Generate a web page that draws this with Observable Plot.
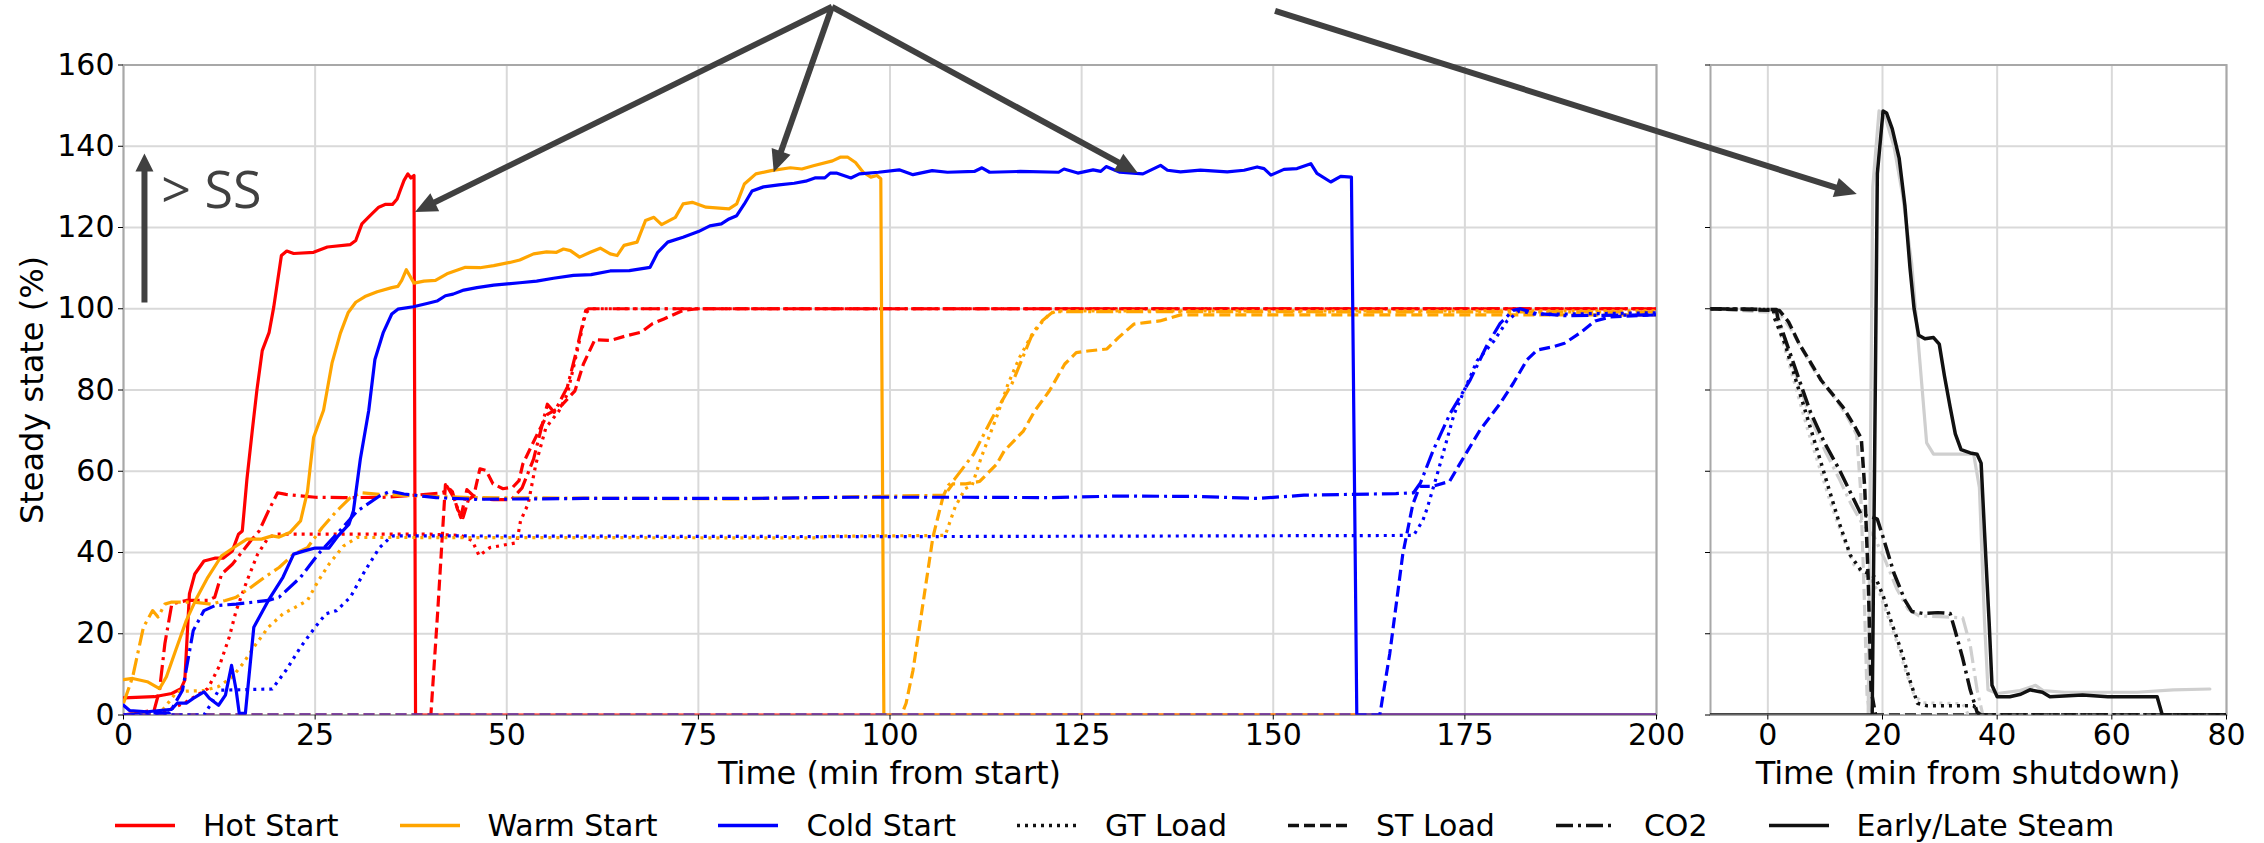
<!DOCTYPE html>
<html><head><meta charset="utf-8">
<script src="https://cdn.jsdelivr.net/npm/d3@7"></script>
<script src="https://cdn.jsdelivr.net/npm/@observablehq/plot@0.6"></script>
<style>
body{margin:0;background:#fff;}
#wrap{position:relative;width:2264px;height:843px;overflow:hidden;font-family:"DejaVu Sans",sans-serif;color:#000;}
.axlab{position:absolute;font-size:32px;white-space:nowrap;transform:translate(-50%,-50%);}
#legend{position:absolute;left:115px;top:825px;transform:translateY(-50%);display:flex;align-items:center;font-size:30px;white-space:nowrap;}
.li{display:flex;align-items:center;margin-right:61px;}
.li svg{margin-right:28px;}
</style></head><body><div id="wrap"></div>
<script>
// ---------- data: [minutes, % of steady state] ----------
const xTicksStart = [0, 25, 50, 75, 100, 125, 150, 175, 200];
const xTicksShut = [0, 20, 40, 60, 80];
const yTicks = [0, 20, 40, 60, 80, 100, 120, 140, 160];

const hotSteam = [[0,4.2],[4,4.5],[6.3,5.3],[7.5,6.5],[8,8.6],[8.6,29.8],[9.3,34.7],[10.5,37.9],[11.9,38.6],[13,38.6],[14.2,40.4],[15,44.5],[15.5,45.3],[16.1,58],[16.8,70],[17.4,79.9],[18.1,89.7],[19,94.2],[19.6,100.4],[20.6,113.1],[21.3,114.2],[22.2,113.6],[24.8,113.9],[26.6,115.2],[29.6,115.8],[30.3,116.8],[31.1,120.9],[32.2,123],[33.3,125],[34.2,125.7],[35.1,125.7],[35.7,127],[36.1,129.1],[36.6,131.6],[37.1,133.2],[37.5,132.2],[37.9,132.8],[38.1,0],[200,0]];
const hotGT = [[0,0],[5,0.5],[8,3],[11,6.5],[12.5,12],[13.8,19.2],[14.7,25.7],[16.1,33],[17.5,39.6],[18.9,43.7],[20,44.5],[40,44.5],[44,44.2],[45.5,42.9],[46.4,39.2],[47.8,41.2],[50.1,42],[51.3,42.4],[51.8,47.8],[52.8,52],[53.8,61.8],[55.1,70.7],[56.8,74.8],[57.9,79],[59,88],[60.3,99],[61,100],[200,100]];
const hotST = [[0,0],[40.1,0],[41,25.7],[42,56.7],[42.9,55],[43.6,50.5],[44.3,48.6],[45,53],[45.7,54],[46.5,60.6],[47.3,60.2],[48.2,56.9],[49.5,55.7],[50.8,56.1],[51.6,57.7],[52.1,61.8],[54,69.2],[55.3,74],[56.9,75.7],[58.9,79.8],[60,86.4],[61.5,92.4],[63.5,92.2],[65.7,93.4],[67.5,94.2],[69,96.3],[70.5,97.5],[73,99.6],[75,100],[200,100]];
const hotCO2 = [[0,0],[4,1.2],[4.7,6.1],[5.4,17.6],[6.3,27.3],[8.2,28.2],[11,28.2],[11.9,29],[12.8,34.7],[14.2,37.1],[15.4,40],[16.6,42.9],[17.7,45.3],[18.9,50.2],[20.1,54.7],[21.2,54.3],[25,53.6],[28.7,53.5],[34.3,53.6],[38,54.1],[41.7,54.7],[42.2,56.3],[43.1,53.5],[44,48.6],[44.8,55.5],[45.9,53.5],[48.3,53],[50.6,53],[52,55.9],[53.5,63],[55.3,76.5],[56.2,74.5],[57.9,80.7],[59,88.9],[60.3,99.6],[60.7,100],[200,100]];

const warmSteam = [[0,8.7],[1.2,9],[3.1,8.2],[4.7,6.5],[5.6,9.4],[6.8,15.9],[8.2,23.3],[9.6,29],[11,33.9],[12.8,39.2],[14.7,41.6],[16.1,43.3],[18,43.3],[19.4,44.1],[20.3,43.8],[21.7,44.9],[23.1,47.8],[24,55],[24.8,68.3],[26.1,75],[27.2,86.6],[28.3,94],[29.3,99],[30.3,101.6],[31.5,103],[33.1,104.2],[35,105.2],[35.8,105.5],[36.3,107],[36.9,109.6],[37.9,106.3],[39.2,106.8],[40.7,107],[42.2,108.6],[44.6,110.2],[46.5,110.1],[48.3,110.6],[50.4,111.4],[51.7,112],[53.5,113.5],[55.2,114],[56.5,113.9],[57.4,114.7],[58.3,114.3],[59.5,112.7],[60.9,113.9],[62.2,114.9],[63.5,113.5],[64.4,113.1],[65.3,115.6],[67,116.4],[68.1,121.7],[69.2,122.5],[70.2,120.7],[72,122.5],[73,125.8],[74.2,126.2],[76,125],[79,124.6],[80,125.8],[81,130.7],[82.5,133.2],[84.5,134],[87,134.7],[88.5,134.4],[90,135.2],[92.5,136.4],[93.5,137.3],[94.5,137.3],[95.5,136],[96.5,133.6],[97.5,132.4],[98.3,132.8],[98.8,132],[99.2,0],[200,0]];
const warmGT = [[0,0],[5,1],[7,5.8],[10.5,6],[12.4,7],[14.2,9.4],[15.6,12.7],[17,16.7],[18.9,21.6],[20.8,24.9],[22.4,26.5],[24,28.2],[25.4,33],[26.8,37.1],[28.7,41.6],[30.5,43.7],[90,43.6],[92,44],[107.2,44.2],[108.5,51.2],[109.8,55.7],[110.7,56.5],[111.9,63.4],[113.9,73.3],[115.4,81.5],[116.9,88],[118.8,94.6],[120.8,98.7],[121.8,99.5],[200,99.5]];
const warmST = [[0,0],[101.5,0],[102.1,2.9],[103,11],[104.3,27.4],[105.6,43.8],[106.9,53.6],[108.2,56.9],[109.9,56.9],[111.7,57.5],[113.9,61.7],[114.9,65],[117.4,69.9],[118.9,74.9],[120.8,79.8],[122.8,86.4],[124.3,89.2],[125.8,89.6],[128.3,90.1],[129.8,92.9],[131.8,96.2],[133.3,96.6],[135.2,97],[137.9,98.5],[200,98.5]];
const warmCO2 = [[0,2.9],[1.2,9.4],[2.6,21.6],[3.8,25.7],[4.5,24.1],[5.4,27.3],[6.3,27.8],[9.1,27.8],[11.4,27.3],[13.3,28.2],[14.7,29],[16.6,31.4],[18.4,33.9],[20.3,36.3],[22.2,39.6],[24,41.2],[25.9,46.1],[27.8,50.2],[29.6,53.5],[31,54.7],[33.4,54.3],[38.9,53.9],[45.9,53.5],[80,53.2],[107,54.1],[107.6,56.5],[108.4,58],[110.9,64.2],[113.4,73.3],[115.9,81.5],[118.4,93],[119.9,97.1],[121.3,99.3],[200,99.2]];

const coldSteam = [[0,2.4],[0.8,1.1],[3.1,0.8],[6.3,1.4],[7,2.9],[8.2,2.9],[9.1,4.1],[10.5,5.7],[11.2,4.1],[12.4,2.4],[13.3,4.9],[14.1,12.2],[14.7,6.1],[15.1,0.4],[15.9,0.4],[17,21.6],[18.9,28.2],[20.8,33.9],[22.2,39.6],[23.6,40.4],[25,41.1],[26.8,41.1],[28,44.1],[29.4,46.9],[30,50.3],[30.9,63],[32,75],[32.8,87.5],[33.9,94.2],[35,98.7],[35.8,99.9],[37.8,100.5],[39.6,101.3],[40.9,101.9],[42,103.2],[43,103.6],[44.4,104.6],[46.1,105.2],[48.3,105.8],[51.7,106.4],[53.9,106.8],[56.1,107.5],[58.7,108.2],[61,108.4],[63.5,109.3],[66,109.4],[68.7,110.2],[69.7,113.9],[71,116.4],[73,117.6],[75,119],[76.5,120.4],[78,120.9],[79,122.1],[80,122.9],[81,125.8],[82,129],[83.5,130],[85.5,130.5],[87.5,130.9],[89,131.4],[90.2,132.2],[91.5,132.2],[92.2,133.4],[93,133.4],[94.9,132.2],[96,133.2],[98.5,133.6],[101.2,134.2],[103,133],[105.5,134],[107.5,133.6],[111,133.8],[112,134.7],[113,133.6],[117,133.8],[122,133.6],[122.7,134.4],[124.5,133.4],[126.5,134.2],[127.5,133.8],[128.2,135],[130,133.6],[133,133.2],[135.3,135.3],[136.2,134.1],[137.9,133.7],[140.5,134.1],[144,133.7],[146.2,134.1],[147.9,134.9],[148.8,134.5],[149.7,132.9],[151.4,134.3],[153.1,134.5],[154.9,135.7],[155.7,133.3],[157.5,131.2],[158.8,132.6],[160.2,132.4],[160.9,0],[200,0]];
const coldGT = [[0,0],[10.5,0],[11.5,3],[12.4,6.1],[19.4,6.4],[21.2,11],[23.1,16.7],[25,21.6],[26.4,24.9],[27.8,25.7],[29.6,29],[31.5,35.5],[33.4,41.2],[34.8,43.7],[35.2,44.1],[100,43.9],[168.3,44.2],[169.5,47.8],[170.1,51],[171.4,59.3],[173.6,74.1],[174.9,79.8],[176.6,87.2],[178.8,92.1],[180.5,97],[182.1,99.5],[184,98.7],[188,98.7],[200,99]];
const coldST = [[0,0],[163.9,0],[165.2,15.1],[166.9,39.6],[168.2,51.8],[169.1,56.3],[170.8,56.3],[173,57.5],[174.4,62],[177,70.2],[179.6,76.7],[181.3,81.6],[183.1,87.4],[184.4,89.8],[186.6,90.7],[188,91.5],[190,94],[192,97],[194,98],[200,98.5]];
const coldCO2 = [[0,0],[6,0.5],[7.7,6.1],[9.1,20.8],[10.5,25.7],[11.9,26.9],[14.7,27.3],[18.9,28.2],[20.3,29],[23.1,33.9],[25.4,39.6],[27.8,44.5],[30.5,50.2],[33.4,53.9],[34.8,55.1],[36.6,54.4],[38.9,53.9],[40.8,53.5],[45.9,53.1],[60,53.3],[81.3,53.3],[95,53.6],[110,53.6],[121,53.5],[129.7,53.9],[140,53.8],[147.9,53.3],[154,54.1],[166,54.5],[168.3,54.7],[169.2,57.1],[170.9,65.3],[173.1,74.3],[175.7,82.5],[177.8,90.7],[179.6,96.4],[181.3,99.6],[182.2,100],[184.4,98.8],[188,98.3],[200,98.5]];

// shutdown (black = case A, light grey = case B)
const shutSteamA = [[-10,0],[18.2,0],[19.1,133.3],[20.1,148.7],[20.7,148.2],[21.7,144.3],[22.9,137.1],[23.9,125.5],[24.8,110],[25.5,100.1],[26.3,93.5],[27.4,92.6],[28.9,92.9],[29.9,91.3],[30.8,83.5],[31.8,75.8],[32.7,69.2],[33.7,65.3],[35.3,64.5],[36.5,64.2],[37.2,62],[37.8,44.9],[38.6,22.8],[39.1,7.3],[40,4.5],[42.2,4.5],[44.1,5.1],[45.7,6.2],[47.9,5.6],[49.2,4.5],[54.9,4.9],[59.3,4.5],[67.9,4.5],[68.8,0],[80,0]];
const shutSteamB = [[-10,0],[17.5,0],[18.3,130],[19.4,148.7],[20.5,147],[22,140],[23.5,128],[25.1,111],[26.4,89],[27.7,67],[28.9,64.2],[32.7,64.2],[35.9,64.2],[36.9,56],[37.8,22.8],[38.4,6.2],[40,5.3],[44,6],[46.7,7.3],[48,6],[51.7,5.6],[64.4,5.6],[70.7,6.2],[77.1,6.4]];
const shutGTA = [[-10,100],[1,99.8],[1.1,97.9],[3,91.3],[4.9,82.4],[6.8,73.6],[8.7,64.8],[10.6,55.9],[12.5,47.1],[14.4,39.3],[16.3,35.5],[17.5,34.9],[18.8,33.8],[20.1,29.4],[21.3,23.9],[23.2,16.1],[24.8,8.4],[26.1,2.9],[27.7,2.3],[35.9,2.3],[36.9,0],[80,0]];
const shutGTB = [[-10,100],[1,99.5],[3,90],[5,80],[7,70],[9,61],[11,52],[13,44],[15,37],[16.5,35],[18,33],[19.5,30],[21,24],[22.5,18],[24,11],[25.5,5],[27,3],[34,2.8],[35,0],[80,0]];
const shutSTA = [[-10,100],[2,99.6],[3.6,96.8],[5.5,91.3],[7.4,86.9],[9.3,82.4],[11.2,79.1],[13.1,75.8],[15,71.4],[16.3,68.1],[16.9,55.9],[17.5,33.8],[18,6.2],[18.8,0],[80,0]];
const shutSTB = [[-10,100],[2,99],[4,95],[6,90],[8,85],[10,81],[12,77.5],[14,73],[15.5,69],[16.2,55],[16.8,30],[17.3,5],[17.8,0],[80,0]];
const shutCO2A = [[-10,100],[1.5,99.8],[1.7,97.9],[3.6,90.2],[5.5,82.4],[7.4,74.7],[9.9,67],[12.5,60.3],[14.4,54.8],[16.3,49.3],[18.2,48.7],[19.1,48.2],[20.1,43.8],[22,34.9],[23.9,28.3],[25.1,25.5],[27,25],[29.6,25.2],[31.8,25],[32.7,20.6],[34,13.9],[35.3,6.2],[36.5,0.7],[37.2,0],[80,0]];
const shutCO2B = [[-10,100],[1.5,99.5],[3.5,90],[5.5,81],[7.5,73],[10,65],[12.5,58],[14.5,52],[16.5,47],[18.5,44],[20.5,38],[22.5,31],[24.5,26],[26.4,24.4],[30,24.2],[34,23.9],[35.3,17.2],[36.5,6.2],[37.5,0],[80,0]];

const legendLabels = ["Hot Start", "Warm Start", "Cold Start", "GT Load", "ST Load", "CO2", "Early/Late Steam"];
const axisTitles = ["Steady state (%)", "Time (min from start)", "Time (min from shutdown)"];
const ssLabel = "> SS";

// ---------- styles ----------
const C = {hot: "#ff0000", warm: "#ffa500", cold: "#0000ff", black: "#111111", grey: "#cfcfcf", grid: "#d9d9d9", frame: "#a8a8a8", annot: "#404040"};
const DASH = {steam: null, gt: "3,5", st: "11,5", co2: "17,5,3,5"};
const LW = 3.2;

function ln(data, stroke, dash, w = LW) {
  return Plot.line(data, {x: d => d[0], y: d => d[1], stroke, strokeWidth: w,
    strokeDasharray: dash || undefined, strokeLinejoin: "round", strokeLinecap: dash ? "butt" : "round", clip: true});
}

const TOP = 64.5, BOT = 714.5, SVGH = 800;
const common = {height: SVGH, marginTop: TOP, marginBottom: SVGH - BOT,
  style: {fontFamily: "DejaVu Sans", fontSize: "30px", color: "#000", background: "transparent", overflow: "visible"}};

const left = Plot.plot({
  ...common, width: 1700, marginLeft: 123, marginRight: 44,
  x: {domain: [0, 200]}, y: {domain: [0, 160]},
  marks: [
    Plot.gridX(xTicksStart, {stroke: C.grid, strokeOpacity: 1, strokeWidth: 2}),
    Plot.gridY(yTicks, {stroke: C.grid, strokeOpacity: 1, strokeWidth: 2}),
    Plot.frame({stroke: C.frame, strokeWidth: 2}),
    Plot.axisX(xTicksStart, {label: null, tickSize: 5, tickPadding: 4, fontSize: 30}),
    Plot.axisY(yTicks, {label: null, tickSize: 5, tickPadding: 4, fontSize: 30}),
    ln(hotGT, C.hot, DASH.gt), ln(hotST, C.hot, DASH.st), ln(hotCO2, C.hot, DASH.co2), ln(hotSteam, C.hot, null),
    ln(warmGT, C.warm, DASH.gt), ln(warmST, C.warm, DASH.st), ln(warmCO2, C.warm, DASH.co2), ln(warmSteam, C.warm, null),
    ln(coldGT, C.cold, DASH.gt), ln(coldST, C.cold, DASH.st), ln(coldCO2, C.cold, DASH.co2), ln(coldSteam, C.cold, null)
  ]
});

const RX = 1700;
const right = Plot.plot({
  ...common, width: 564, marginLeft: 10, marginRight: 38,
  x: {domain: [-10, 80]}, y: {domain: [0, 160]},
  marks: [
    Plot.gridX(xTicksShut, {stroke: C.grid, strokeOpacity: 1, strokeWidth: 2}),
    Plot.gridY(yTicks, {stroke: C.grid, strokeOpacity: 1, strokeWidth: 2}),
    Plot.frame({stroke: C.frame, strokeWidth: 2}),
    Plot.axisX(xTicksShut, {label: null, tickSize: 5, tickPadding: 4, fontSize: 30}),
    Plot.axisY(yTicks, {label: null, tickSize: 5, tickFormat: () => ""}),
    ln(shutGTB, C.grey, DASH.gt), ln(shutSTB, C.grey, DASH.st), ln(shutCO2B, C.grey, DASH.co2), ln(shutSteamB, C.grey, null),
    ln(shutGTA, C.black, DASH.gt, 3.5), ln(shutSTA, C.black, DASH.st, 3.5), ln(shutCO2A, C.black, DASH.co2, 3.5), ln(shutSteamA, C.black, null, 3.5)
  ]
});

const wrap = document.getElementById("wrap");
left.style.position = "absolute"; left.style.left = "0px"; left.style.top = "0px";
right.style.position = "absolute"; right.style.left = RX + "px"; right.style.top = "0px";
wrap.appendChild(left); wrap.appendChild(right);

// axis titles
const lx = left.scale("x"), ly = left.scale("y"), rx = right.scale("x");
function addText(txt, x, y, rot) {
  const d = document.createElement("div"); d.className = "axlab"; d.textContent = txt;
  d.style.left = x + "px"; d.style.top = y + "px";
  if (rot) d.style.transform = "translate(-50%,-50%) rotate(-90deg)";
  wrap.appendChild(d);
}
addText(axisTitles[0], 32, (TOP + BOT) / 2, true);
addText(axisTitles[1], (lx.apply(0) + lx.apply(200)) / 2, 773);
addText(axisTitles[2], RX + (rx.apply(-10) + rx.apply(80)) / 2, 773);

// annotation arrows (anchors in data units of the left / right panel)
const arrowsLeft = [
  {from: [92.5, 174.2], to: [38.1, 123.7]},
  {from: [92.5, 174.2], to: [84.9, 133.5]},
  {from: [92.5, 174.2], to: [132.4, 133.3]}
];
const arrowShutFrom = [150.3, 173.2], arrowShutTo = [15.6, 128.1];
const ssArrow = {from: [2.8, 101.4], to: [2.8, 138.1]}, ssText = [5.0, 124.7];

const ov = d3.create("svg").attr("width", 2264).attr("height", 843)
  .style("position", "absolute").style("left", 0).style("top", 0).style("pointer-events", "none");
function drawArrow(x1, y1, x2, y2, w = 6, hl = 22, hw = 20) {
  const dx = x2 - x1, dy = y2 - y1, L = Math.hypot(dx, dy), ux = dx / L, uy = dy / L;
  const bx = x2 - ux * hl, by = y2 - uy * hl, px = -uy, py = ux;
  ov.append("line").attr("x1", x1).attr("y1", y1).attr("x2", bx + ux * 2).attr("y2", by + uy * 2)
    .attr("stroke", C.annot).attr("stroke-width", w);
  ov.append("polygon").attr("points", [[x2, y2], [bx + px * hw / 2, by + py * hw / 2], [bx - px * hw / 2, by - py * hw / 2]].map(p => p.join(",")).join(" "))
    .attr("fill", C.annot);
}
const P = (s, p, off = 0) => [s.x.apply(p[0]) + off, s.y.apply(p[1])];
const LS = {x: lx, y: ly}, RS = {x: rx, y: right.scale("y")};
for (const a of arrowsLeft) { const f = P(LS, a.from), t = P(LS, a.to); drawArrow(f[0], f[1], t[0], t[1]); }
{ const f = P(LS, arrowShutFrom), t = P(RS, arrowShutTo, RX); drawArrow(f[0], f[1], t[0], t[1]); }
{ const f = P(LS, ssArrow.from), t = P(LS, ssArrow.to); drawArrow(f[0], f[1], t[0], t[1], 6, 18, 18); }
{ const p = P(LS, ssText);
  ov.append("text").attr("x", p[0]).attr("y", p[1]).attr("fill", C.annot)
    .style("font-family", "'Open Sans', sans-serif").style("font-size", "52px").text(ssLabel); }
wrap.appendChild(ov.node());

// legend
const legendStyles = [[C.hot, null], [C.warm, null], [C.cold, null], [C.black, DASH.gt], [C.black, DASH.st], [C.black, DASH.co2], [C.black, null]];
const lg = document.createElement("div"); lg.id = "legend";
legendLabels.forEach((lab, i) => {
  const [col, dash] = legendStyles[i];
  const it = document.createElement("div"); it.className = "li";
  const s = d3.create("svg").attr("width", 60).attr("height", 12);
  s.append("line").attr("x1", 0).attr("x2", 60).attr("y1", 6).attr("y2", 6).attr("stroke", col).attr("stroke-width", 3.5)
    .attr("stroke-dasharray", dash);
  it.appendChild(s.node());
  const t = document.createElement("span"); t.textContent = lab; it.appendChild(t);
  lg.appendChild(it);
});
wrap.appendChild(lg);
</script></body></html>
